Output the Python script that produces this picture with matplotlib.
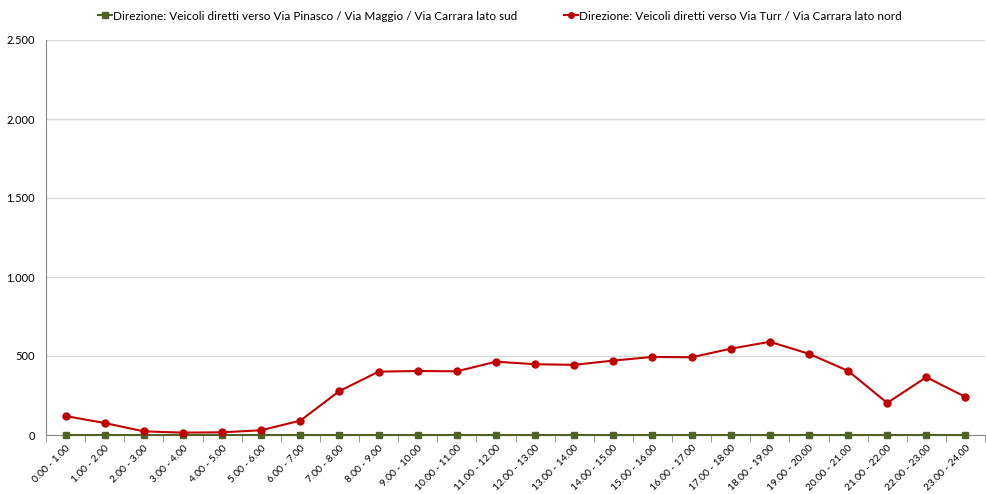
import matplotlib
matplotlib.use("Agg")
import matplotlib.pyplot as plt
from matplotlib.ticker import FuncFormatter, FixedLocator

plt.rcParams['font.family'] = ['Lato', 'DejaVu Sans']

fasce = ["0.00 - 1.00", "1.00 - 2.00", "2.00 - 3.00", "3.00 - 4.00", "4.00 - 5.00",
         "5.00 - 6.00", "6.00 - 7.00", "7.00 - 8.00", "8.00 - 9.00", "9.00 - 10.00",
         "10.00 - 11.00", "11.00 - 12.00", "12.00 - 13.00", "13.00 - 14.00",
         "14.00 - 15.00", "15.00 - 16.00", "16.00 - 17.00", "17.00 - 18.00",
         "18.00 - 19.00", "19.00 - 20.00", "20.00 - 21.00", "21.00 - 22.00",
         "22.00 - 23.00", "23.00 - 24.00"]
lato_sud = [0] * 24
lato_nord = [120, 76, 23, 15, 17, 30, 91, 278, 401, 405, 403, 464,
             448, 444, 471, 494, 492, 546, 590, 514, 406, 203, 366, 241]
nome_sud = "Direzione: Veicoli diretti verso Via Pinasco / Via Maggio / Via Carrara lato sud"
nome_nord = "Direzione: Veicoli diretti verso Via Turr / Via Carrara lato nord"

fig = plt.figure(figsize=(9.86, 4.94), dpi=100)
ax = fig.add_axes([46/986, (494-435)/494, 939/986, 395/494])

x = list(range(len(fasce)))
ax.plot(x, lato_sud, color="#4F6228", marker="s", markersize=5, linewidth=1.5,
        label=nome_sud, zorder=3, clip_on=False)
ax.plot(x, lato_nord, color="#C00000", marker="o", markersize=5, linewidth=1.5,
        label=nome_nord, zorder=4, clip_on=False)

ax.set_xlim(-0.5, len(fasce) - 0.5)
ax.set_ylim(0, 2500)
ax.set_yticks([0, 500, 1000, 1500, 2000, 2500])
ax.yaxis.set_major_formatter(FuncFormatter(lambda v, p: f"{int(v):,}".replace(",", ".")))
ax.grid(axis="y", color="#D9D9D9", linewidth=1)
ax.set_axisbelow(True)

ax.set_xticks(x)
ax.set_xticklabels(fasce, rotation=45, ha="right", rotation_mode="anchor", fontsize=7.3)
ax.tick_params(axis="x", length=0, pad=6)
ax.xaxis.set_minor_locator(FixedLocator([i - 0.5 for i in range(len(fasce) + 1)]))
ax.tick_params(axis="x", which="minor", length=5, color="#868686")
ax.tick_params(axis="y", length=0, labelsize=8, pad=8)

for s in ["top", "right"]:
    ax.spines[s].set_visible(False)
for s in ["left", "bottom"]:
    ax.spines[s].set_color("#868686")

fig.legend(loc="upper center", bbox_to_anchor=(0.507, 1.0), ncol=2, frameon=False,
           fontsize=8.5, handlelength=1.2, handletextpad=0.1, columnspacing=3.9,
           markerscale=0.8)

fig.savefig("out.png", dpi=100)
